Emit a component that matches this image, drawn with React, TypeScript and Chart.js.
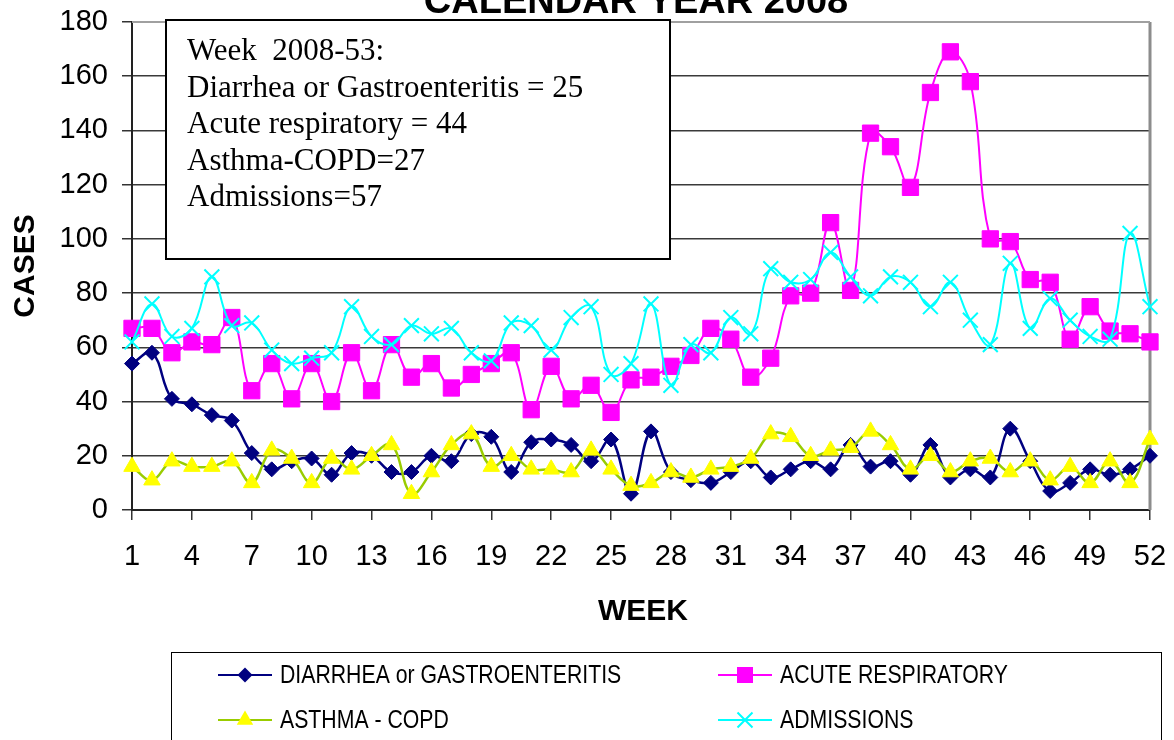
import React, { useEffect, useRef } from 'react';
import { Chart, registerables } from 'chart.js';

Chart.register(...registerables);

const weeks = [1,2,3,4,5,6,7,8,9,10,11,12,13,14,15,16,17,18,19,20,21,22,23,24,25,26,27,28,29,30,31,32,33,34,35,36,37,38,39,40,41,42,43,44,45,46,47,48,49,50,51,52];
const xTickLabels = [1,4,7,10,13,16,19,22,25,28,31,34,37,40,43,46,49,52];

const diarrhea = [54,58,41,39,35,33,21,15,18,19,13,21,20,14,14,20,18,28,27,14,25,26,24,18,26,6,29,14,11,10,14,18,12,15,18,15,24,16,18,13,24,12,15,12,30,18,7,10,15,13,15,20];
const respiratory = [67,67,58,62,61,71,44,54,41,54,40,58,44,61,49,54,45,50,54,58,37,53,41,46,36,48,49,53,57,67,63,49,56,79,80,106,81,139,134,119,154,169,158,100,99,85,84,63,75,66,65,62];
const asthma = [16,11,18,16,16,18,10,22,19,10,19,15,20,24,6,14,24,28,16,20,15,15,14,22,15,9,10,14,12,15,16,19,28,27,20,22,23,29,24,15,20,14,18,19,14,18,11,16,10,18,10,26];
const admissions = [62,76,64,67,86,68,69,59,54,56,58,75,64,61,68,65,67,58,55,69,68,59,71,75,50,54,76,46,61,58,71,65,89,84,85,95,86,79,86,84,75,84,70,61,91,67,78,70,64,63,102,75];

const titleText = 'CALENDAR YEAR 2008';
const yTitle = 'CASES';
const xTitle = 'WEEK';
const noteLines = [
  'Week  2008-53:',
  'Diarrhea or Gastroenteritis = 25',
  'Acute respiratory = 44',
  'Asthma-COPD=27',
  'Admissions=57',
];
const legendLabels = ['DIARRHEA or GASTROENTERITIS', 'ACUTE RESPIRATORY', 'ASTHMA - COPD', 'ADMISSIONS'];

const W = 1174;
const H = 740;
const SANS = '"Liberation Sans", Arial, sans-serif';
const SERIF = '"Liberation Serif", "Times New Roman", serif';

function drawMarker(ctx: CanvasRenderingContext2D, kind: string, x: number, y: number, fill: string) {
  ctx.save();
  ctx.fillStyle = fill;
  ctx.strokeStyle = fill;
  ctx.beginPath();
  if (kind === 'diamond') {
    const r = 7.5;
    ctx.moveTo(x, y - r); ctx.lineTo(x + r, y); ctx.lineTo(x, y + r); ctx.lineTo(x - r, y); ctx.closePath();
    ctx.fill();
  } else if (kind === 'square') {
    const h = 8;
    ctx.rect(x - h, y - h, 2 * h, 2 * h);
    ctx.fill();
  } else if (kind === 'triangle') {
    const r = 9.5;
    ctx.moveTo(x, y - r); ctx.lineTo(x + r * 0.866, y + r / 2); ctx.lineTo(x - r * 0.866, y + r / 2); ctx.closePath();
    ctx.fill();
  } else if (kind === 'x') {
    const a = 7.5;
    ctx.lineWidth = 2;
    ctx.moveTo(x - a, y - a); ctx.lineTo(x + a, y + a);
    ctx.moveTo(x + a, y - a); ctx.lineTo(x - a, y + a);
    ctx.stroke();
  }
  ctx.restore();
}

export default function App() {
  const ref = useRef<HTMLCanvasElement>(null);

  useEffect(() => {
    const canvas = ref.current;
    if (!canvas) return;
    const pts = (vals: number[]) => weeks.map((w, i) => ({ x: w, y: vals[i] }));

    const decor = {
      id: 'decor',
      beforeDatasetsDraw(chart: any) {
        const { ctx, chartArea } = chart;
        ctx.save();
        ctx.strokeStyle = '#8c8c8c';
        ctx.lineWidth = 3;
        ctx.beginPath();
        ctx.moveTo(chartArea.right, chartArea.top);
        ctx.lineTo(chartArea.right, chartArea.bottom);
        ctx.stroke();
        ctx.strokeStyle = '#a0a0a0';
        ctx.lineWidth = 2;
        ctx.beginPath();
        ctx.moveTo(chartArea.left, chartArea.top);
        ctx.lineTo(chartArea.right, chartArea.top);
        ctx.stroke();
        ctx.restore();
      },
      afterDraw(chart: any) {
        const { ctx, chartArea } = chart;
        ctx.save();
        // title
        ctx.fillStyle = '#000';
        ctx.font = `bold 38px ${SANS}`;
        ctx.textAlign = 'center';
        ctx.textBaseline = 'alphabetic';
        ctx.fillText(titleText, 636, 13);
        // axis titles
        ctx.font = `bold 30px ${SANS}`;
        ctx.fillText(xTitle, 643, 620);
        ctx.save();
        ctx.translate(34, 266);
        ctx.rotate(-Math.PI / 2);
        ctx.fillText(yTitle, 0, 0);
        ctx.restore();
        // note box
        ctx.fillStyle = '#fff';
        ctx.fillRect(166, 20, 504, 239);
        ctx.strokeStyle = '#000';
        ctx.lineWidth = 2;
        ctx.strokeRect(166, 20, 504, 239);
        ctx.fillStyle = '#000';
        ctx.font = `31px ${SERIF}`;
        ctx.textAlign = 'left';
        noteLines.forEach((t, i) => ctx.fillText(t, 187, 60 + i * 36.5));
        // legend
        ctx.strokeStyle = '#000';
        ctx.lineWidth = 1;
        ctx.strokeRect(171.5, 652.5, 990, 120);
        const items = [
          { label: legendLabels[0], line: '#000080', fill: '#000080', kind: 'diamond', x: 218, y: 675 },
          { label: legendLabels[1], line: '#FF00FF', fill: '#FF00FF', kind: 'square', x: 718, y: 675 },
          { label: legendLabels[2], line: '#99CC00', fill: '#FFFF00', kind: 'triangle', x: 218, y: 720 },
          { label: legendLabels[3], line: '#00FFFF', fill: '#00FFFF', kind: 'x', x: 718, y: 720 },
        ];
        items.forEach((it) => {
          ctx.strokeStyle = it.line;
          ctx.lineWidth = 2;
          ctx.beginPath();
          ctx.moveTo(it.x, it.y);
          ctx.lineTo(it.x + 54, it.y);
          ctx.stroke();
          drawMarker(ctx, it.kind, it.x + 27, it.y, it.fill);
          ctx.save();
          ctx.translate(it.x + 62, it.y);
          ctx.scale(0.85, 1);
          ctx.fillStyle = '#000';
          ctx.font = `25px ${SANS}`;
          ctx.textAlign = 'left';
          ctx.textBaseline = 'middle';
          ctx.fillText(it.label, 0, 1);
          ctx.restore();
        });
        ctx.restore();
      },
    };

    const chart = new Chart(canvas, {
      type: 'line',
      data: {
        datasets: [
          {
            label: legendLabels[0], data: pts(diarrhea), order: 4,
            borderColor: '#000080', borderWidth: 2.5, tension: 0.4,
            pointStyle: 'rectRot', pointRadius: 7.5, pointBackgroundColor: '#000080', pointBorderColor: '#000080', pointBorderWidth: 1,
            clip: false,
          },
          {
            label: legendLabels[1], data: pts(respiratory), order: 3,
            borderColor: '#FF00FF', borderWidth: 2, tension: 0.4,
            pointStyle: 'rect', pointRadius: 11.5, pointBackgroundColor: '#FF00FF', pointBorderColor: '#FF00FF', pointBorderWidth: 1,
            clip: false,
          },
          {
            label: legendLabels[2], data: pts(asthma), order: 2,
            borderColor: '#99CC00', borderWidth: 2.5, tension: 0.4,
            pointStyle: 'triangle', pointRadius: 9.5, pointBackgroundColor: '#FFFF00', pointBorderColor: '#FFFF00', pointBorderWidth: 1,
            clip: false,
          },
          {
            label: legendLabels[3], data: pts(admissions), order: 1,
            borderColor: '#00FFFF', borderWidth: 2, tension: 0.4,
            pointStyle: 'crossRot', pointRadius: 10.5, pointBackgroundColor: '#00FFFF', pointBorderColor: '#00FFFF', pointBorderWidth: 2,
            clip: false,
          },
        ] as any,
      },
      options: {
        responsive: false,
        animation: false,
        devicePixelRatio: 1,
        layout: { padding: { left: 0, top: 22, right: 24, bottom: 170 } },
        plugins: { legend: { display: false }, title: { display: false }, tooltip: { enabled: false } },
        font: { family: SANS },
        scales: {
          x: {
            type: 'linear', min: 1, max: 52,
            afterBuildTicks: (a: any) => { a.ticks = xTickLabels.map((v) => ({ value: v })); },
            afterFit: (a: any) => { a.height = 60; a.paddingLeft = 0; a.paddingRight = 0; },
            grid: { drawOnChartArea: false, drawTicks: true, tickLength: 10, color: '#333', tickColor: '#333', lineWidth: 1.5 },
            border: { color: '#222', width: 2 },
            ticks: { font: { size: 29, family: SANS }, color: '#000', padding: 20, maxRotation: 0, autoSkip: false, callback: (v: any) => String(v) },
          },
          y: {
            min: 0, max: 180,
            afterFit: (a: any) => { a.width = 132; a.paddingTop = 0; a.paddingBottom = 0; },
            grid: {
              color: (c: any) => (c.tick && c.tick.value === 180 ? '#a0a0a0' : '#3a3a3a'),
              lineWidth: 1.5, tickLength: 10, tickColor: '#333',
            },
            border: { color: '#222', width: 2 },
            ticks: { stepSize: 20, font: { size: 29, family: SANS }, color: '#000', padding: 14 },
          },
        },
      } as any,
      plugins: [decor],
    });
    return () => chart.destroy();
  }, []);

  return (
    <div style={{ position: 'fixed', left: 0, top: 0, width: W, height: H, background: '#fff' }}>
      <canvas ref={ref} width={W} height={H} style={{ width: W, height: H, display: 'block' }} />
    </div>
  );
}
